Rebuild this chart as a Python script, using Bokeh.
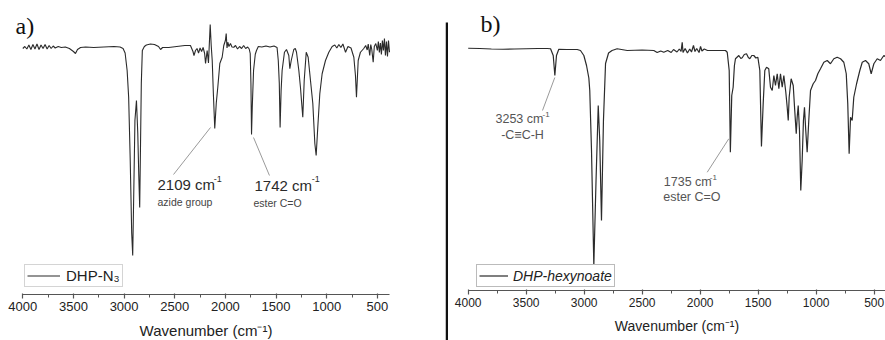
from bokeh.plotting import figure
from bokeh.layouts import row
from bokeh.models import Range1d, FixedTicker
from bokeh.core.properties import value
from bokeh.embed import file_html
from bokeh.resources import INLINE

# ---------------- data ----------------
# panel a) DHP-N3
n3_wavenumber = [
    4000, 3980, 3960, 3940, 3920, 3900, 3880, 3860, 3840, 3820,
    3800, 3780, 3760, 3740, 3720, 3700, 3680, 3650, 3620, 3580,
    3540, 3500, 3480, 3460, 3430, 3380, 3300, 3200, 3100, 3040,
    3010, 2990, 2970, 2955, 2940, 2925, 2915, 2905, 2893, 2878,
    2865, 2855, 2846, 2838, 2830, 2820, 2800, 2780, 2740, 2700,
    2660, 2640, 2620, 2560, 2480, 2400, 2345, 2320, 2310, 2295,
    2280, 2265, 2250, 2235, 2220, 2205, 2196, 2180, 2167, 2150,
    2140, 2130, 2118, 2105, 2090, 2075, 2055, 2032, 2016, 2000,
    1992, 1984, 1976, 1965, 1950, 1935, 1917, 1900, 1880, 1860,
    1840, 1820, 1800, 1780, 1765, 1755, 1748, 1742, 1735, 1722,
    1705, 1693, 1675, 1640, 1600, 1560, 1520, 1490, 1478, 1468,
    1460, 1450, 1440, 1417, 1397, 1374, 1364, 1350, 1325, 1310,
    1298, 1275, 1259, 1249, 1236, 1222, 1202, 1183, 1160, 1150,
    1137, 1117, 1104, 1088, 1068, 1045, 1012, 979, 946, 920,
    900, 880, 860, 840, 814, 790, 760, 732, 716, 706,
    689, 667, 634, 615, 600, 590, 575, 565, 555, 541,
    530, 515, 500, 490, 480, 470, 460, 450, 440, 430,
    420, 410, 400, 390, 380,
]
n3_transmittance = [
    88.8, 89.6, 88.6, 90.2, 88.4, 90.4, 88.6, 90.6, 88.4, 90.2,
    88.8, 90.4, 88.6, 90.0, 88.8, 89.8, 89.0, 89.6, 89.2, 89.4,
    88.8, 87.6, 86.8, 88.4, 89.2, 89.4, 89.2, 89.4, 89.6, 89.4,
    88.8, 87.0, 80.0, 69.3, 45.0, 15.0, 6.0, 30.0, 60.0, 68.0,
    55.0, 38.0, 25.2, 50.0, 75.0, 88.0, 89.6, 90.2, 90.6, 90.4,
    89.6, 88.4, 89.2, 89.2, 89.6, 90.0, 90.0, 87.6, 86.0, 88.0,
    88.8, 87.0, 89.0, 87.6, 89.2, 86.8, 82.8, 88.0, 83.0, 98.4,
    90.0, 84.0, 70.0, 56.8, 67.0, 73.3, 82.8, 85.3, 90.0, 92.0,
    94.8, 89.0, 91.3, 89.6, 90.8, 89.4, 89.3, 90.0, 88.6, 89.6,
    88.8, 90.0, 88.8, 89.4, 88.6, 86.8, 75.0, 54.4, 65.0, 80.0,
    86.5, 88.0, 89.6, 89.4, 89.8, 89.4, 89.8, 89.2, 84.0, 75.0,
    57.2, 72.0, 80.0, 87.3, 88.4, 86.0, 80.7, 84.0, 88.4, 88.8,
    87.3, 80.0, 73.3, 68.0, 61.3, 76.0, 87.3, 85.3, 76.0, 72.0,
    66.8, 50.8, 46.0, 57.3, 70.7, 78.7, 84.0, 87.3, 89.6, 90.2,
    89.0, 90.4, 89.2, 90.6, 87.3, 89.6, 89.0, 85.3, 78.0, 69.3,
    84.0, 87.3, 88.8, 90.0, 88.2, 90.6, 86.0, 90.4, 88.4, 83.3,
    89.6, 90.8, 88.0, 91.6, 87.2, 91.0, 86.4, 92.0, 88.0, 92.8,
    86.0, 91.6, 85.6, 92.0, 87.3,
]

# panel b) DHP-hexynoate
hex_wavenumber = [
    4000, 3900, 3800, 3700, 3600, 3500, 3400, 3320, 3290, 3267,
    3253, 3239, 3219, 3150, 3060, 3032, 3003, 2980, 2960, 2952,
    2937, 2917, 2898, 2879, 2866, 2851, 2834, 2816, 2790, 2760,
    2716, 2629, 2500, 2400, 2371, 2340, 2314, 2280, 2250, 2230,
    2200, 2180, 2165, 2155, 2148, 2130, 2110, 2090, 2075, 2058,
    2045, 2030, 2010, 1997, 1985, 1965, 1937, 1880, 1800, 1782,
    1767, 1750, 1740, 1728, 1716, 1705, 1696, 1667, 1650, 1638,
    1620, 1601, 1585, 1572, 1555, 1538, 1520, 1503, 1486, 1472,
    1457, 1443, 1428, 1409, 1394, 1379, 1365, 1351, 1336, 1322,
    1308, 1293, 1279, 1262, 1250, 1241, 1233, 1216, 1198, 1185,
    1172, 1164, 1155, 1144, 1133, 1121, 1110, 1101, 1090, 1078,
    1064, 1049, 1026, 1006, 986, 963, 934, 905, 877, 848,
    819, 790, 762, 741, 728, 716, 704, 690, 676, 652,
    624, 603, 575, 547, 526, 503, 474, 446, 417, 403,
]
hex_transmittance = [
    88.9, 88.8, 88.6, 88.5, 88.6, 88.7, 88.8, 88.8, 88.7, 86.0,
    78.0, 86.0, 88.5, 88.4, 88.4, 88.0, 86.0, 82.0, 77.0, 72.0,
    48.0, 2.0, 36.0, 66.0, 52.0, 20.0, 60.0, 82.8, 87.0, 88.0,
    88.7, 88.0, 88.2, 88.0, 87.2, 87.8, 87.3, 88.0, 87.2, 88.4,
    87.4, 88.6, 87.6, 91.3, 87.2, 88.8, 87.0, 88.6, 87.4, 90.0,
    87.6, 88.8, 87.2, 89.6, 87.8, 88.6, 88.0, 88.0, 88.0, 88.0,
    87.3, 80.0, 47.3, 70.0, 73.3, 82.0, 84.7, 86.0, 84.8, 85.1,
    86.4, 86.7, 85.2, 84.7, 86.0, 86.0, 85.0, 85.3, 80.0, 49.6,
    66.8, 80.0, 81.3, 80.7, 73.3, 72.0, 78.0, 74.0, 78.7, 72.7,
    78.7, 73.3, 78.0, 71.3, 65.3, 60.0, 69.3, 76.7, 74.0, 64.0,
    54.7, 61.3, 66.0, 56.0, 32.0, 44.0, 60.0, 65.3, 56.0, 47.3,
    60.0, 72.0, 74.7, 76.0, 78.7, 80.7, 83.3, 84.0, 82.7, 84.7,
    85.3, 84.7, 83.3, 78.7, 66.8, 46.7, 61.3, 60.0, 69.3, 74.7,
    80.0, 83.3, 84.0, 82.7, 78.7, 82.7, 84.7, 84.0, 86.0, 85.6,
]

major_ticks = [4000, 3500, 3000, 2500, 2000, 1500, 1000, 500]
minor_ticks = [3750, 3250, 2750, 2250, 1750, 1250, 750]

x_title = "Wavenumber (cm⁻¹)"
legend_a = "DHP-N₃"
legend_b = "DHP-hexynoate"
panel_a = "a)"
panel_b = "b)"
peaks_a = ["2109 cm", "1742 cm"]
groups_a = ["azide group", "ester C=O"]
peaks_b = ["3253 cm", "1735 cm"]
groups_b = ["-C≡C-H", "ester C=O"]
sup = "-1"

SANS = "Liberation Sans"
SERIF = "Liberation Serif"
LINE = "#2b2b2b"
LEADER = "#9a9a9a"


def make_panel(width, xr, yr, axis_at, axis_lo, tick_size, title_size,
               label_standoff, title_standoff):
    p = figure(width=width, height=340, x_range=Range1d(*xr), y_range=Range1d(*yr),
               output_backend="svg", toolbar_location=None, title_location=None,
               y_axis_location=None, min_border_left=0, min_border_right=0,
               min_border_top=0, min_border_bottom=0,
               outline_line_color=None, border_fill_color="white",
               background_fill_color="white")
    p.grid.visible = False
    ax = p.xaxis[0]
    ax.fixed_location = axis_at
    ax.bounds = (axis_lo, 4000)
    ax.ticker = FixedTicker(ticks=major_ticks, minor_ticks=minor_ticks)
    ax.axis_label = x_title
    ax.axis_label_text_font = SANS
    ax.axis_label_text_font_style = "normal"
    ax.axis_label_text_font_size = title_size
    ax.axis_label_text_color = "#222222"
    ax.axis_label_standoff = title_standoff
    ax.major_label_text_font = SANS
    ax.major_label_text_font_size = tick_size
    ax.major_label_text_color = "#222222"
    ax.major_label_standoff = label_standoff
    ax.axis_line_color = "#555555"
    ax.axis_line_width = 1.2
    ax.major_tick_line_color = "#555555"
    ax.major_tick_line_width = 1.2
    ax.major_tick_out = 4
    ax.major_tick_in = 1
    ax.minor_tick_line_color = "#555555"
    ax.minor_tick_out = 3
    ax.minor_tick_in = 0
    return p


def style_legend(p, loc, glyph_w, standoff, size, font_style, border):
    lg = p.legend[0]
    lg.location = loc
    lg.padding = 2
    lg.spacing = 0
    lg.margin = 0
    lg.glyph_width = glyph_w
    lg.glyph_height = 17
    lg.label_height = 17
    lg.label_standoff = standoff
    lg.label_text_font = SANS
    lg.label_text_font_size = size
    lg.label_text_font_style = font_style
    lg.label_text_color = "#222222"
    lg.border_line_color = border
    lg.border_line_width = 1
    lg.background_fill_color = "white"
    lg.background_fill_alpha = 1.0


# ---------------- panel a ----------------
# frame covers the full 445x340 area; y value = 108 - 0.4 * pixel row
pa = make_panel(445, (4220.1, -172.8), (-28.0, 108.0), -9.6, 377,
                "13px", "15px", 3, 8)
pa.line(n3_wavenumber, n3_transmittance, line_color=LINE, line_width=1.1,
        legend_label=legend_a)
style_legend(pa, (24, 53), 33, 6, "15px", "normal", "#aaaaaa")

pa.segment(x0=[2147, 1722.5], y0=[57.2, 53.2], x1=[2512, 1565], y1=[38.4, 38.0],
           line_color=LEADER, line_width=1)
pa.text(x=[2670, 1713], y=[34.4, 34.0], text=peaks_a, text_font=value(SANS),
        text_font_size=value("15px"), text_color="#2a2a2a",
        text_align="left", text_baseline="middle")
pa.text(x=[2116, 1148], y=[36.8, 36.8], text=[sup, sup], text_font=value(SANS),
        text_font_size=value("9px"), text_color="#2a2a2a",
        text_align="left", text_baseline="middle")
pa.text(x=[2670, 1723], y=[27.6, 27.2], text=groups_a, text_font=value(SANS),
        text_font_size=value("10.5px"), text_color="#444444",
        text_align="left", text_baseline="middle")
pa.text(x=[4072], y=[98.0], text=[panel_a], text_font=value(SERIF),
        text_font_size=value("24px"), text_color="#111111",
        text_align="left", text_baseline="middle")

# ---------------- separator (vertical rule from 22 px below the top) ----------------
sep = figure(width=3, height=340, x_range=Range1d(0, 1), y_range=Range1d(0, 340),
             output_backend="svg", toolbar_location=None, title_location=None,
             x_axis_location=None, y_axis_location=None,
             min_border_left=0, min_border_right=0, min_border_bottom=0,
             min_border_top=0, outline_line_color=None,
             background_fill_color="white", border_fill_color="white")
sep.grid.visible = False
sep.quad(left=[0], right=[1], bottom=[0], top=[318], fill_color="#111111",
         line_color=None)

# ---------------- panel b ----------------
pb = make_panel(437, (4169.8, 402.6), (-28.0, 108.0), -8.0, 402.6,
                "12px", "14px", 3, 8)
pb.line(hex_wavenumber, hex_transmittance, line_color=LINE, line_width=1.2,
        legend_label=legend_b)
style_legend(pb, (28, 53), 29, 5, "14px", "italic", "#777777")

pb.segment(x0=[3253.4, 1753.4], y0=[77.2, 52.7], x1=[3359.5, 1939.6], y1=[64.0, 39.3],
           line_color=LEADER, line_width=1)
pb.text(x=[3764.6, 2313.8], y=[60.7, 35.3], text=peaks_b, text_font=value(SANS),
        text_font_size=value("12.5px"), text_color="#555555",
        text_align="left", text_baseline="middle")
pb.text(x=[3359, 1918], y=[62.4, 37.1], text=[sup, sup], text_font=value(SANS),
        text_font_size=value("8px"), text_color="#555555",
        text_align="left", text_baseline="middle")
pb.text(x=[3531.9], y=[54.3], text=[groups_b[0]], text_font=value(SANS),
        text_font_size=value("12.5px"), text_color="#555555",
        text_align="center", text_baseline="middle")
pb.text(x=[2318.9], y=[29.6], text=[groups_b[1]], text_font=value(SANS),
        text_font_size=value("12.5px"), text_color="#555555",
        text_align="left", text_baseline="middle")
pb.text(x=[3893.9], y=[98.8], text=[panel_b], text_font=value(SERIF),
        text_font_size=value("24px"), text_color="#111111",
        text_align="left", text_baseline="middle")

layout = row(pa, sep, pb)
open("out.html", "w").write(file_html(layout, INLINE))
